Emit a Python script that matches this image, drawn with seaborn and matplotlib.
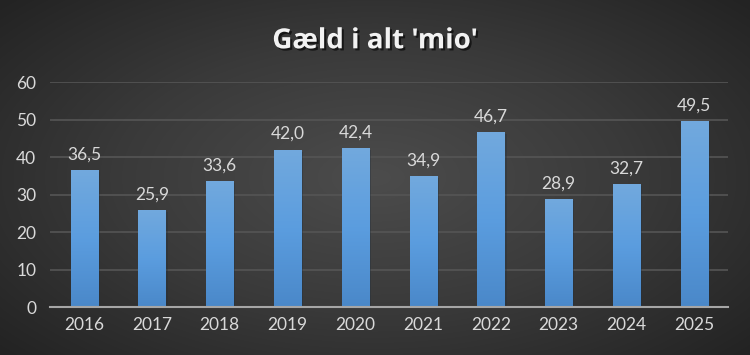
import numpy as np
import pandas as pd
import matplotlib
matplotlib.use("Agg")
import matplotlib.pyplot as plt
import matplotlib.patheffects as pe
from matplotlib.colors import LinearSegmentedColormap
import seaborn as sns

# data
years = ["2016", "2017", "2018", "2019", "2020", "2021", "2022", "2023", "2024", "2025"]
gaeld = [36.5, 25.9, 33.6, 42.0, 42.4, 34.9, 46.7, 28.9, 32.7, 49.5]
title = "Gæld i alt 'mio'"

df = pd.DataFrame({"aar": years, "gaeld": gaeld})

sns.set_theme(style="dark")
plt.rcParams["font.family"] = ["Lato", "DejaVu Sans"]

fig = plt.figure(figsize=(7.5, 3.55), dpi=100)

# radial baggrund
bg = fig.add_axes([0, 0, 1, 1], zorder=0)
yy, xx = np.mgrid[-1:1:355j, -1:1:750j]
r = np.sqrt((xx / 1.0) ** 2 + (yy / 1.1) ** 2)
bg_cmap = LinearSegmentedColormap.from_list("bg", ["#4c4c4c", "#3a3a3a", "#232323"])
bg.imshow(r, cmap=bg_cmap, aspect="auto", extent=[0, 1, 0, 1], vmin=0, vmax=1.35)
bg.set_axis_off()

ax = fig.add_axes([0.067, 0.135, 0.904, 0.634], zorder=1)
ax.patch.set_alpha(0)

sns.barplot(data=df, x="aar", y="gaeld", color="#5b9bd5", width=0.4,
            linewidth=0, edgecolor="none", ax=ax, zorder=3)

# gradient i søjlerne
bar_cmap = LinearSegmentedColormap.from_list("bar", ["#4a88c9", "#5b9ddf", "#72a9dd"])
grad = np.linspace(0, 1, 256).reshape(-1, 1)
for p in ax.patches:
    x0, y0 = p.get_x(), p.get_y()
    w, h = p.get_width(), p.get_height()
    im = ax.imshow(grad, cmap=bar_cmap, origin="lower", aspect="auto",
                   extent=[x0, x0 + w, y0, y0 + h], zorder=3)
    im.set_clip_path(p)
    p.set_path_effects([pe.SimplePatchShadow(offset=(1.5, -1.5), alpha=0.35), pe.Normal()])

ax.set_xlim(-0.5, len(years) - 0.5)
ax.set_ylim(0, 60)
ax.set_yticks(range(0, 61, 10))
ax.yaxis.grid(True, color="#555555", linewidth=1.2, zorder=0)
ax.xaxis.grid(False)
for s in ["top", "right", "left"]:
    ax.spines[s].set_visible(False)
ax.spines["bottom"].set_color("#a6a6a6")
ax.spines["bottom"].set_linewidth(1.5)
ax.spines["bottom"].set_zorder(4)
ax.tick_params(axis="both", colors="#d9d9d9", labelsize=12.5, length=0, pad=7)
ax.tick_params(axis="y", pad=10)
ax.set_xlabel("")
ax.set_ylabel("")

for i, v in enumerate(gaeld):
    ax.text(i, v + 2.0, f"{v:.1f}".replace(".", ","), ha="center", va="bottom",
            color="#d9d9d9", fontsize=12.5, zorder=5)

fig.text(0.5, 0.885, title, ha="center", va="center", color="#f2f2f2",
         fontsize=20, fontweight="bold", family=["Open Sans", "DejaVu Sans"],
         path_effects=[pe.withSimplePatchShadow(offset=(1.5, -1.5), shadow_rgbFace="black", alpha=0.6)])

fig.savefig("out.png", dpi=100)
